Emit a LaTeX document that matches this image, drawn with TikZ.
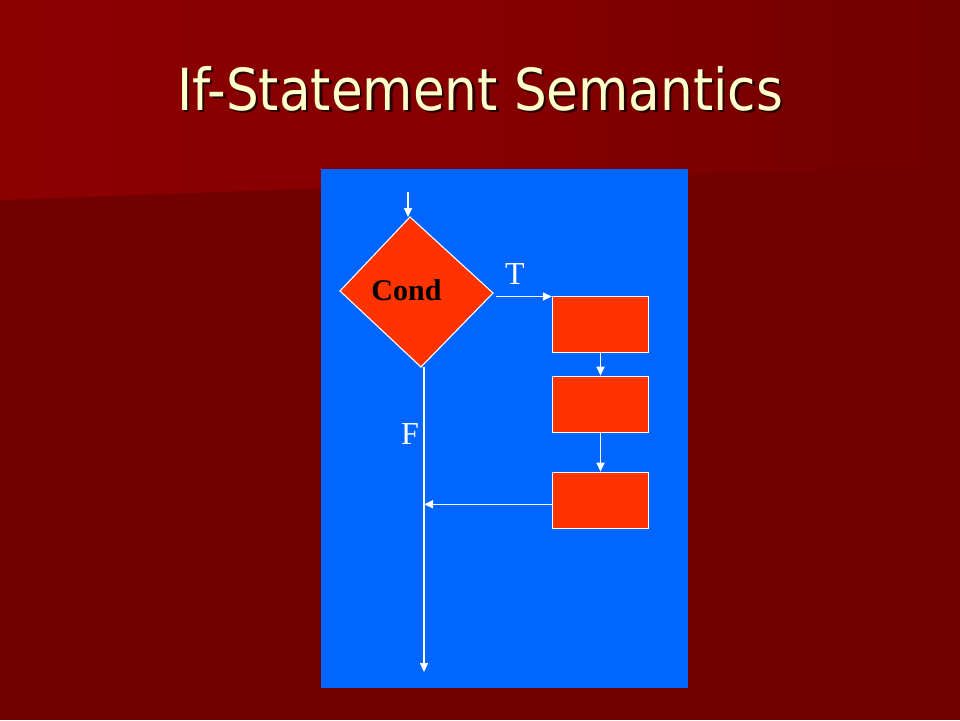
\documentclass[tikz,border=0pt]{standalone}
\usepackage{fontspec}
\setmainfont{Liberation Serif}
\newfontfamily\titlefont{DejaVu Sans}
\usetikzlibrary{arrows.meta}
\definecolor{bgdark}{HTML}{720000}
\definecolor{bglight}{HTML}{8C0000}
\definecolor{panelblue}{HTML}{0066FF}
\definecolor{boxred}{HTML}{FF3300}
\definecolor{titlecream}{HTML}{FFFFCC}
\definecolor{shadowc}{HTML}{2A0000}
\tikzset{
  flowbox/.style={rectangle, draw=white, line width=1.3pt, fill=boxred,
    minimum width=96pt, minimum height=56pt, inner sep=0pt},
  flowline/.style={draw=white, line width=1.3pt},
  flowarrow/.style={flowline, -{Triangle[length=9pt,width=8pt]}},
  lbl/.style={text=white, font=\fontsize{32}{36}\selectfont, inner sep=0pt, anchor=base},
}
\begin{document}
\begin{tikzpicture}[x=1pt,y=-1pt]
\useasboundingbox (0,0) rectangle (960,720);
% background
\fill[bgdark] (0,0) rectangle (960,720);
\shade[left color=bglight, right color=bgdark, middle color=bglight!75!bgdark]
  (0,0) -- (960,0) -- (960,165) -- (0,200) -- cycle;
% title
\node[anchor=base, inner sep=0pt, text=shadowc] (titleshadow) at (482.5,112.5)
  {\titlefont\fontsize{58}{64}\selectfont\resizebox{606pt}{\height}{If-Statement Semantics}};
\node[anchor=base, inner sep=0pt, text=titlecream] (title) at (480,110)
  {\titlefont\fontsize{58}{64}\selectfont\resizebox{606pt}{\height}{If-Statement Semantics}};
% panel
\fill[panelblue] (321,169) rectangle (688,688);
% diamond
\coordinate (dt) at (410,217);
\coordinate (dl) at (340,291);
\coordinate (dr) at (493,293);
\coordinate (db) at (421,367);
\filldraw[fill=boxred, draw=white, line width=1.1pt] (dt) -- (dr) -- (db) -- (dl) -- cycle;
\node[anchor=base, inner sep=0pt, font=\bfseries\fontsize{30}{34}\selectfont] (cond) at (406.5,300) {Cond};
% boxes
\node[flowbox] (b1) at (600.5,324.5) {};
\node[flowbox] (b2) at (600.5,404.3) {};
\node[flowbox] (b3) at (600.5,500.3) {};
% labels
\node[lbl] (tlab) at (515,284) {T};
\node[lbl] (flab) at (410,444) {F};
% connectors
\coordinate (entry) at (408,192);
\draw[flowarrow] (entry) -- (entry |- dt);
\coordinate (tstart) at (496,296.5);
\draw[flowarrow] (tstart) -- (tstart -| b1.west);
\draw[flowarrow] (b1.south) -- (b2.north);
\draw[flowarrow] (b2.south) -- (b3.north);
\coordinate (fstart) at (424,367);
\coordinate (fend) at (424,672);
\draw[flowarrow] (fstart) -- (fend);
\coordinate (fjoin) at (424,504.3);
\draw[flowarrow] (b3.west |- fjoin) -- (fjoin);
\end{tikzpicture}
\end{document}
